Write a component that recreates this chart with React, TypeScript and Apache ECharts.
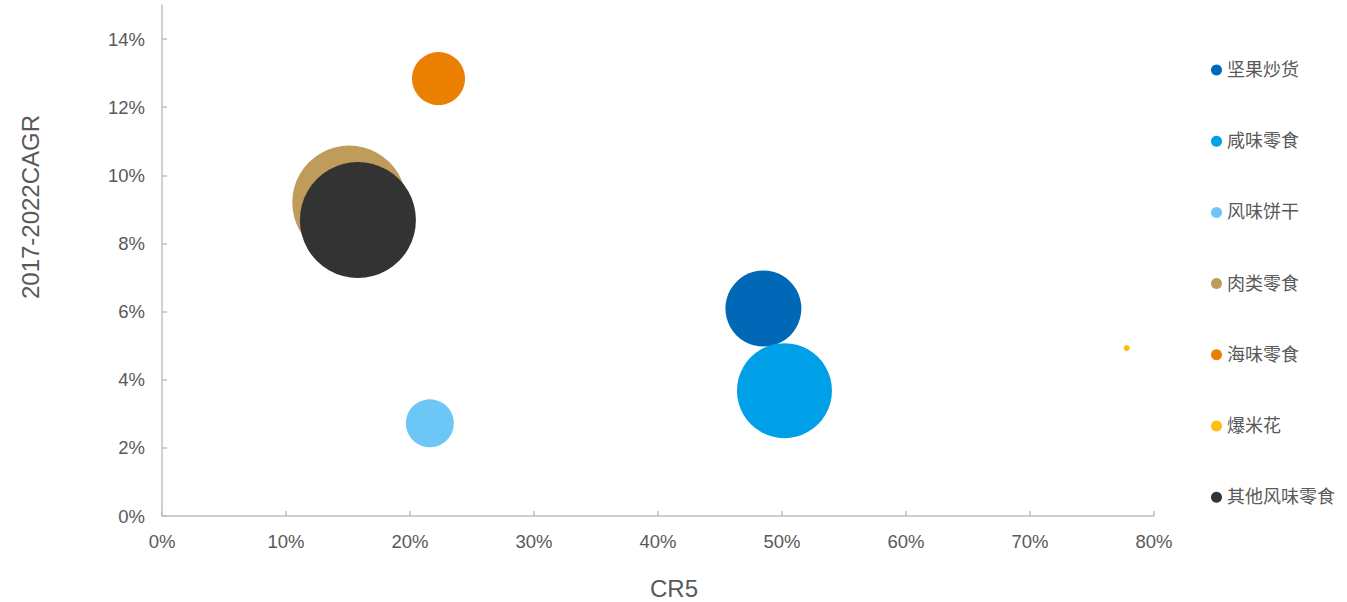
import React, { useEffect, useRef } from "react";
import * as echarts from "echarts";

const categories = ["坚果炒货", "咸味零食", "风味饼干", "肉类零食", "海味零食", "爆米花", "其他风味零食"];
const cr5 = [48.5, 50.2, 21.6, 15.1, 22.3, 77.8, 15.8];
const cagr = [6.09, 3.68, 2.72, 9.2, 12.84, 4.93, 8.69];
const bubbleSize = [76, 95, 48, 114, 53, 6, 116];
const colors = ["#0068b7", "#00a0e9", "#6cc6f6", "#c09c5c", "#eb7f00", "#fbbf14", "#333333"];
const yTicks = [0, 2, 4, 6, 8, 10, 12, 14];
const xTicks = [0, 10, 20, 30, 40, 50, 60, 70, 80];

const FONT = "'Liberation Sans', Arial, 'Noto Sans CJK SC', sans-serif";
const TEXT = "#595959";
const AXIS = "#bfbfbf";

export default function App() {
  const ref = useRef<HTMLDivElement>(null);
  useEffect(() => {
    if (!ref.current) return;
    const chart = echarts.init(ref.current, null, { renderer: "svg" });
    const series = categories.map((name, i) => ({
      name,
      type: "scatter",
      data: [[cr5[i], cagr[i], bubbleSize[i]]],
      symbolSize: (v: number[]) => v[2],
      itemStyle: { color: colors[i], opacity: 1 },
      emphasis: { disabled: true },
      z: 2,
    }));
    chart.setOption({
      animation: false,
      textStyle: { fontFamily: FONT },
      color: colors,
      grid: { left: 162, right: 193, top: 5, bottom: 86, containLabel: false },
      legend: {
        orient: "vertical",
        left: 1211,
        top: 60,
        padding: 0,
        icon: "circle",
        itemWidth: 11,
        itemHeight: 11,
        itemGap: 51.2,
        selectedMode: false,
        textStyle: { fontSize: 18, color: TEXT, fontFamily: FONT, lineHeight: 20 },
        data: categories,
      },
      xAxis: {
        type: "value",
        min: 0,
        max: 80,
        interval: 10,
        splitLine: { show: false },
        axisLine: { show: true, lineStyle: { color: AXIS, width: 1.5 } },
        axisTick: { show: true, inside: true, length: 5, lineStyle: { color: AXIS, width: 1.5 }, customValues: xTicks },
        axisLabel: {
          fontSize: 18.5,
          color: TEXT,
          margin: 16,
          fontFamily: FONT,
          customValues: xTicks,
          formatter: (v: number) => `${v}%`,
        },
      },
      yAxis: {
        type: "value",
        min: 0,
        max: 15,
        interval: 2,
        splitLine: { show: false },
        axisLine: { show: true, lineStyle: { color: AXIS, width: 1.5 } },
        axisTick: { show: true, inside: true, length: 5, lineStyle: { color: AXIS, width: 1.5 }, customValues: yTicks },
        axisLabel: {
          fontSize: 18.5,
          color: TEXT,
          margin: 17,
          fontFamily: FONT,
          customValues: yTicks,
          formatter: (v: number) => (v % 2 === 0 ? `${v}%` : ""),
        },
      },
      graphic: [
        {
          type: "text",
          x: 30,
          y: 207,
          rotation: Math.PI / 2,
          style: {
            text: "2017-2022CAGR",
            fontSize: 24,
            fill: TEXT,
            fontFamily: FONT,
            align: "center",
            verticalAlign: "middle",
          },
        },
        {
          type: "text",
          x: 674,
          y: 588,
          style: {
            text: "CR5",
            fontSize: 24,
            fill: TEXT,
            fontFamily: FONT,
            align: "center",
            verticalAlign: "middle",
          },
        },
      ],
      series,
    });
    return () => chart.dispose();
  }, []);
  return (
    <div
      ref={ref}
      style={{ position: "fixed", left: 0, top: 0, width: 1347, height: 602, background: "#ffffff" }}
    />
  );
}
